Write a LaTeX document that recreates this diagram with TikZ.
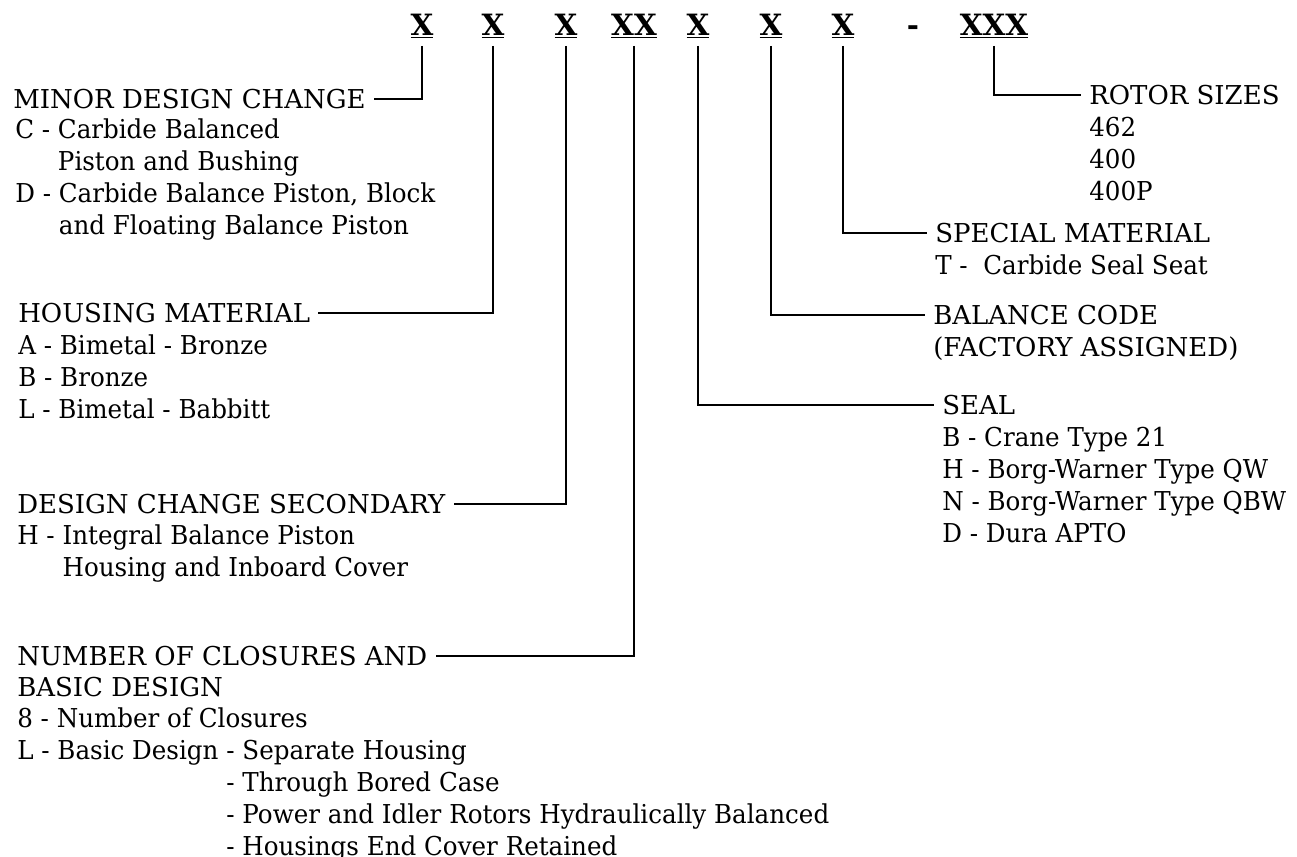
\documentclass[tikz,border=0pt]{standalone}
\usepackage{fontspec}
\setmainfont{DejaVu Serif}
\newfontfamily\narrowserif{DejaVu Serif}[FakeStretch=0.945]
\usetikzlibrary{calc}
\begin{document}
\begin{tikzpicture}[x=0.75pt,y=-0.75pt,
  lbl/.style={font=\fontsize{19.5}{23.85}\selectfont, inner xsep=6pt, inner ysep=0pt, align=left},
  items/.style={lbl, font=\fontsize{19.5}{23.85}\selectfont\narrowserif, anchor=base west},
  code/.style={font=\fontsize{22}{26}\selectfont\bfseries, text height=16pt, text depth=0pt, inner xsep=2pt, inner ysep=7.5pt},
  conn/.style={line width=1.8pt}]
\useasboundingbox (0,0) rectangle (1297,857);
% code row
\node[code] (c1) at (422,25) {\underline{X}};
\node[code] (c2) at (493,25) {\underline{X}};
\node[code] (c3) at (566,25) {\underline{X}};
\node[code] (c4) at (634,25) {\underline{XX}};
\node[code] (c5) at (698,25) {\underline{X}};
\node[code] (c6) at (771,25) {\underline{X}};
\node[code] (c7) at (843,25) {\underline{X}};
\node[code] (dash) at (913,25) {-};
\node[code] (c8) at (994,25) {\underline{XXX}};
% left titles
\node[lbl, anchor=west] (minor) at (5,99) {MINOR DESIGN CHANGE};
\node[items] (minorit) at (7,234) {C - Carbide Balanced\\\phantom{C - }Piston and Bushing\\D - Carbide Balance Piston, Block\\\phantom{D - }and Floating Balance Piston};
\node[lbl, anchor=west] (housing) at (10,313) {HOUSING MATERIAL};
\node[items] (housingit) at (10,418) {A - Bimetal - Bronze\\B - Bronze\\L - Bimetal - Babbitt};
\node[lbl, anchor=west] (design) at (9,504) {DESIGN CHANGE SECONDARY};
\node[items] (designit) at (9,576) {H - Integral Balance Piston\\\phantom{H - }Housing and Inboard Cover};
\node[lbl, anchor=west] (number) at (9,656) {NUMBER OF CLOSURES AND};
\node[items] (numberit) at (9,855) {{\normalfont BASIC DESIGN}\\8 - Number of Closures\\L - Basic Design - Separate Housing\\\phantom{L - Basic Design }- Through Bored Case\\\phantom{L - Basic Design }- Power and Idler Rotors Hydraulically Balanced\\\phantom{L - Basic Design }- Housings End Cover Retained};
% right titles
\node[lbl, anchor=west] (rotor) at (1081,95) {ROTOR SIZES};
\node[items] (rotorit) at (1081,200) {462\\400\\400P};
\node[lbl, anchor=west] (special) at (927,233) {SPECIAL MATERIAL};
\node[items] (specialit) at (927,274) {T -\ \ Carbide Seal Seat};
\node[lbl, anchor=west] (balance) at (925,315) {BALANCE CODE};
\node[lbl, anchor=base west] (balanceit) at (925,356) {(FACTORY ASSIGNED)};
\node[lbl, anchor=west] (seal) at (934,405) {SEAL};
\node[items] (sealit) at (934,542) {B - Crane Type 21\\H - Borg-Warner Type QW\\N - Borg-Warner Type QBW\\D - Dura APTO};
% connectors
\draw[conn] (c1.south) |- (minor.east);
\draw[conn] (c2.south) |- (housing.east);
\draw[conn] (c3.south) |- (design.east);
\draw[conn] (c4.south) |- (number.east);
\draw[conn] (c5.south) |- (seal.west);
\draw[conn] (c6.south) |- (balance.west);
\draw[conn] (c7.south) |- (special.west);
\draw[conn] (c8.south) |- (rotor.west);
\end{tikzpicture}
\end{document}
